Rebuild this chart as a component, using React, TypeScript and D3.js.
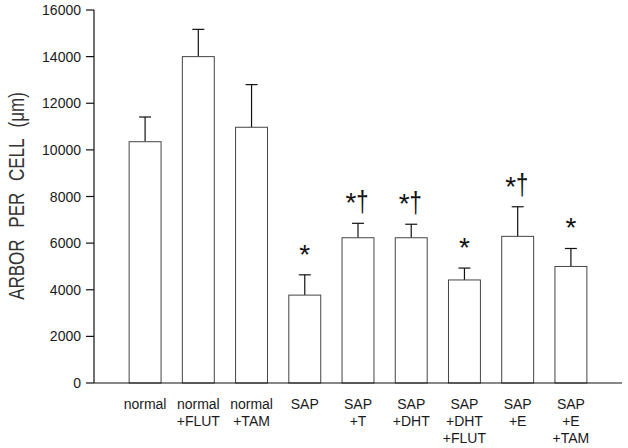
import React from "react";
import * as d3 from "d3";

const categories = [
  "normal",
  "normal +FLUT",
  "normal +TAM",
  "SAP",
  "SAP +T",
  "SAP +DHT",
  "SAP +DHT +FLUT",
  "SAP +E",
  "SAP +E +TAM",
];
const means = [10350, 14000, 10970, 3770, 6230, 6230, 4420, 6290, 5000];
const errors = [1060, 1170, 1830, 870, 620, 580, 510, 1270, 770];
const stars = ["", "", "", "*", "*", "*", "*", "*", "*"];
const daggers = ["", "", "", "", "†", "†", "", "†", ""];
const yTicks = [0, 2000, 4000, 6000, 8000, 10000, 12000, 14000, 16000];
const yTitle = "ARBOR PER CELL (μm)";

const W = 628;
const H = 448;
const left = 94;
const right = 622;
const top = 10;
const bottom = 383;
const font = "'Liberation Sans', Arial, Helvetica, sans-serif";

export default function App() {
  const x = d3
    .scaleBand<string>()
    .domain(categories)
    .range([left, right])
    .paddingInner(0.4)
    .paddingOuter(0.66);
  const y = d3.scaleLinear().domain([0, 16000]).range([bottom, top]);
  const bw = x.bandwidth();

  return (
    <svg
      width={W}
      height={H}
      style={{ position: "absolute", left: 0, top: 0, background: "#fff" }}
      fontFamily={font}
    >
      <rect x={0} y={0} width={W} height={H} fill="#fff" />
      {categories.map((c, i) => {
        const x0 = x(c)!;
        const cx = x0 + bw / 2;
        const yTop = y(means[i]);
        const yCap = y(means[i] + errors[i]);
        return (
          <g key={c}>
            <line x1={cx} x2={cx} y1={yTop} y2={yCap} stroke="#111" strokeWidth={1.2} />
            <line x1={cx - 6} x2={cx + 6} y1={yCap} y2={yCap} stroke="#111" strokeWidth={1.2} />
            <rect
              x={x0}
              y={yTop}
              width={bw}
              height={bottom - yTop}
              fill="#fff"
              stroke="#444"
              strokeWidth={1}
            />
            {stars[i] && (
              <text
                x={daggers[i] ? cx - 7 : cx}
                y={yCap - 11}
                fontSize={28}
                textAnchor="middle"
                fill="#111"
              >
                {stars[i]}
              </text>
            )}
            {daggers[i] && (
              <text
                x={cx + 4.5}
                y={yCap - 11.5}
                fontSize={26}
                textAnchor="middle"
                fill="#111"
                transform={`translate(${cx + 4.5},${yCap - 11.5}) scale(0.85,1.1) translate(${-(cx + 4.5)},${-(yCap - 11.5)})`}
              >
                {daggers[i]}
              </text>
            )}
            {c.split(" ").map((line, k) => (
              <text
                key={k}
                x={cx}
                y={408.5 + k * 17}
                fontSize={14}
                textAnchor="middle"
                fill="#1a1a1a"
              >
                {line}
              </text>
            ))}
          </g>
        );
      })}
      <line x1={left} x2={left} y1={top} y2={bottom} stroke="#111" strokeWidth={1.2} />
      <line x1={left} x2={right} y1={bottom} y2={bottom} stroke="#111" strokeWidth={1.2} />
      {yTicks.map((t) => (
        <g key={t}>
          <line x1={left - 8} x2={left} y1={y(t)} y2={y(t)} stroke="#111" strokeWidth={1.2} />
          <text
            x={left - 13}
            y={y(t)}
            dy="0.36em"
            fontSize={14}
            textAnchor="end"
            fill="#1a1a1a"
          >
            {t}
          </text>
        </g>
      ))}
      <text
        transform={`translate(24,196) rotate(-90) scale(1,1.25)`}
        fontSize={17}
        textAnchor="middle"
        fill="#333"
        style={{ wordSpacing: "7px" }}
      >
        {yTitle}
      </text>
    </svg>
  );
}
